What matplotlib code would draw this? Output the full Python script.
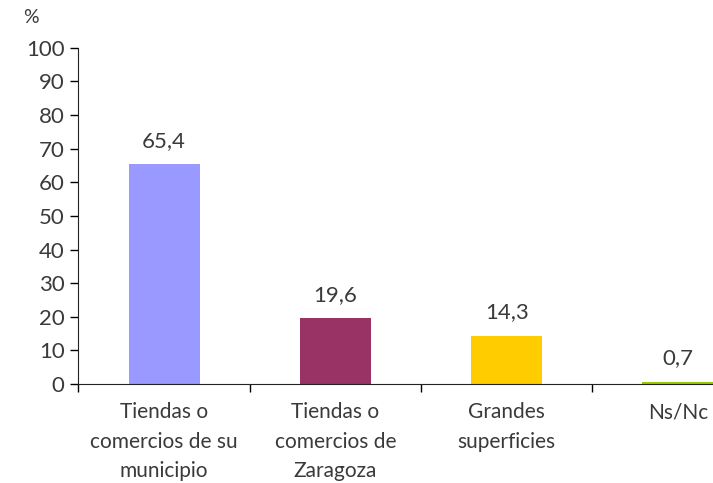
import numpy as np
import matplotlib.pyplot as plt

categories = ["Tiendas o\ncomercios de su\nmunicipio",
              "Tiendas o\ncomercios de\nZaragoza",
              "Grandes\nsuperficies",
              "Ns/Nc"]
values = [65.4, 19.6, 14.3, 0.7]
labels = ["65,4", "19,6", "14,3", "0,7"]
colors = ["#9999ff", "#993366", "#ffcc00", "#99cc00"]

plt.rcParams['font.family'] = ['Lato', 'DejaVu Sans']
txt = "#3a3a3a"

fig = plt.figure(figsize=(7.13, 4.83), dpi=100)
ax = fig.add_axes([0.110, 0.205, 0.961, 0.696])

x = np.arange(len(values))
ax.bar(x, values, width=0.415, color=colors)
for xi, v, lab in zip(x, values, labels):
    ax.text(xi, v + 4, lab, ha='center', va='bottom', fontsize=16, color=txt)

ax.set_xlim(-0.5, len(values) - 0.5)
ax.set_ylim(0, 100)
ax.set_yticks(range(0, 101, 10))
ax.tick_params(axis='y', labelsize=16, labelcolor=txt, length=6, width=1, pad=4)

# category labels between boundary ticks
ax.set_xticks(np.arange(len(values) + 1) - 0.5)
ax.set_xticklabels([])
ax.set_xticks(x, minor=True)
ax.set_xticklabels(categories, minor=True, fontsize=15, color=txt, linespacing=1.6)
ax.tick_params(axis='x', which='major', length=6, width=1)
ax.tick_params(axis='x', which='minor', length=0, pad=13)

for s in ['top', 'right']:
    ax.spines[s].set_visible(False)
for s in ['left', 'bottom']:
    ax.spines[s].set_color('#222222')

fig.text(0.032, 0.953, "%", fontsize=14, color=txt)

fig.savefig("out.png", dpi=100)
